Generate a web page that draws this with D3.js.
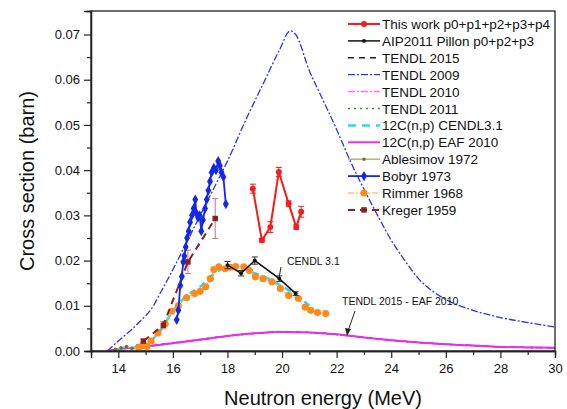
<!DOCTYPE html>
<meta charset="utf-8">
<script src="https://d3js.org/d3.v7.min.js"></script>
<style>
  body { margin: 0; background: #fff; }
  text { font-family: Arial, "Liberation Sans", sans-serif; fill: #111; }
</style>
<body>
<div id="chart"></div>
<script>

// values: [neutron energy (MeV), cross section (barn)]
var thisWork    = [[18.93,0.0359],[19.26,0.0245],[19.57,0.0274],[19.88,0.0396],[20.24,0.0326],[20.52,0.0274],[20.7,0.0308]];
var thisWorkErr = [0.0010,0.0004,0.0012,0.0010,0.0006,0.0005,0.0012];

var pillon    = [[18.0,0.0190],[18.5,0.0172],[19.0,0.0200],[19.9,0.0160],[20.5,0.0127]];
var pillonErr = [0.0008,0.0006,0.0008,0.0006,0.0004];

var tendl2009 = [[13.6,0],[14.0,0.0022],[14.5,0.0048],[14.9,0.0072],[15.2,0.0092],[15.6,0.0135],[16.0,0.0180],
  [16.5,0.0240],[17.0,0.0300],[17.5,0.0360],[18.0,0.0420],[18.7,0.0515],[19.3,0.0590],[19.9,0.0665],[20.3,0.0708],
  [20.5,0.0700],[21.0,0.0620],[21.5,0.0555],[22.0,0.0490],[22.5,0.0420],[23.0,0.0358],[23.5,0.0300],[24.0,0.0245],
  [24.5,0.0200],[25.0,0.0160],[25.5,0.0133],[26.0,0.0114],[27.0,0.0090],[28.0,0.0074],[29.0,0.0063],[30.0,0.0053]];

var eaf2010 = [[13.6,0],[14.0,0.0004],[15,0.0010],[16,0.0017],[17,0.0025],[18,0.0033],[19,0.0039],[20,0.0042],
  [21,0.0041],[22,0.0037],[23,0.0030],[24,0.0024],[25,0.0019],[26,0.0015],[27,0.0012],[28,0.0009],[29,0.0008],[30,0.0007]];
var tendl2015 = [[13.6,0],[14.0,0.0004],[15,0.0010],[16,0.0017],[17,0.0025],[18,0.0033],[19,0.0039],[20,0.0042],
  [21,0.0041],[22,0.0037],[23,0.0030],[24,0.0024],[25,0.0019],[26,0.0015],[27,0.0012],[28,0.0009],[29,0.0008],[30,0.0007]];
var tendl2010 = [[13.6,0],[14.0,0.0004],[15,0.0010],[16,0.0018],[17,0.0026],[18,0.0033],[19,0.0039],[20,0.0042],
  [21,0.0041],[22,0.0036],[23,0.0030],[24,0.0024],[25,0.0019],[26,0.0015],[27,0.0012],[28,0.0009],[29,0.0008],[30,0.0007]];
var tendl2011 = [[13.6,0],[14.0,0.0004],[15,0.0010],[16,0.0018],[17,0.0026],[18,0.0033],[19,0.0039],[20,0.0042],
  [21,0.0041],[22,0.0036],[23,0.0030],[24,0.0024],[25,0.0019],[26,0.0015],[27,0.0012],[28,0.0009],[29,0.0008],[30,0.0007]];

var cendl31 = [[14.0,0],[14.5,0.0005],[15.0,0.0014],[15.5,0.0042],[16.0,0.0088],[16.5,0.0122],[17.0,0.0142],
  [17.5,0.0170],[18.0,0.0184],[18.5,0.0182],[19.0,0.0172],[19.5,0.0160],[20.0,0.0143],[20.5,0.0124],[21.0,0.0100]];

var ablesimov = [[13.9,0.0004],[14.1,0.0007],[14.3,0.0010],[14.5,0.0006],[14.7,0.0012],[14.9,0.0008],[15.1,0.0011]];

var bobyr = [[16.14,0.0069],[16.2,0.0090],[16.27,0.0145],[16.33,0.0165],[16.38,0.0197],[16.42,0.0210],[16.47,0.0230],
  [16.52,0.0250],[16.58,0.0265],[16.63,0.0285],[16.7,0.0300],[16.76,0.0315],[16.82,0.0335],[16.86,0.0305],
  [16.92,0.0295],[16.98,0.0300],[17.04,0.0265],[17.1,0.0290],[17.18,0.0315],[17.24,0.0335],[17.3,0.0355],
  [17.36,0.0375],[17.42,0.0395],[17.5,0.0405],[17.58,0.0400],[17.66,0.0420],[17.72,0.0410],[17.78,0.0395],
  [17.85,0.0385],[17.94,0.0325]];

var rimmer = [[14.75,0.0008],[14.9,0.0012],[15.05,0.0010],[15.2,0.0022],[15.45,0.0040],[15.72,0.0060],[15.96,0.0088],
  [16.2,0.0100],[16.5,0.0118],[16.8,0.0127],[17.0,0.0132],[17.2,0.0142],[17.37,0.0160],[17.5,0.0180],[17.68,0.0186],
  [17.92,0.0182],[18.1,0.0185],[18.3,0.0187],[18.6,0.0186],[18.8,0.0178],[19.02,0.0164],[19.3,0.0160],[19.63,0.0153],
  [19.94,0.0138],[20.24,0.0123],[20.6,0.0116],[20.85,0.0097],[21.05,0.0090],[21.3,0.0085],[21.6,0.0083]];

var kreger    = [[14.92,0.0022],[15.65,0.0057],[16.55,0.0197],[17.55,0.0293]];
var kregerErr = [0.0004,0.0008,0.0026,0.0044];

var xTicks = [14,16,18,20,22,24,26,28,30];
var xMinor = [13,15,17,19,21,23,25,27,29];
var yTicks = [0,0.01,0.02,0.03,0.04,0.05,0.06,0.07];
var yMinor = [0.005,0.015,0.025,0.035,0.045,0.055,0.065];

var legendLabels = ["This work p0+p1+p2+p3+p4","AIP2011 Pillon p0+p2+p3","TENDL 2015","TENDL 2009","TENDL 2010",
  "TENDL 2011","12C(n,p) CENDL3.1","12C(n,p) EAF 2010","Ablesimov 1972","Bobyr 1973","Rimmer 1968","Kreger 1959"];

var W = 567, H = 409;

var svg = d3.select("#chart").append("svg")
  .attr("width", W).attr("height", H);

var x = d3.scaleLinear().domain([13, 30]).range([91, 555]);
var y = d3.scaleLinear().domain([0, 0.0752]).range([351, 11]);

// clip for the curves
svg.append("clipPath").attr("id", "clip")
  .append("rect").attr("x", 91).attr("y", 11).attr("width", 464).attr("height", 340);

var line = d3.line().x(function(d){ return x(d[0]); }).y(function(d){ return y(d[1]); });
var smooth = d3.line().curve(d3.curveMonotoneX).x(function(d){ return x(d[0]); }).y(function(d){ return y(d[1]); });

var plot = svg.append("g").attr("clip-path", "url(#clip)");

function drawLine(data, gen, color, w, dash) {
  plot.append("path").datum(data)
    .attr("d", gen)
    .attr("fill", "none")
    .attr("stroke", color)
    .attr("stroke-width", w)
    .attr("stroke-dasharray", dash || null);
}

function errBars(data, err, color) {
  var g = plot.append("g").attr("stroke", color).attr("stroke-width", 1);
  data.forEach(function(d, i) {
    var cx = x(d[0]), y0 = y(d[1] - err[i]), y1 = y(d[1] + err[i]);
    g.append("line").attr("x1", cx).attr("x2", cx).attr("y1", y0).attr("y2", y1);
    g.append("line").attr("x1", cx - 3).attr("x2", cx + 3).attr("y1", y0).attr("y2", y0);
    g.append("line").attr("x1", cx - 3).attr("x2", cx + 3).attr("y1", y1).attr("y2", y1);
  });
}

function markers(data, type, size, color) {
  plot.append("g").selectAll("path").data(data).enter().append("path")
    .attr("transform", function(d){ return "translate(" + x(d[0]) + "," + y(d[1]) + ")"; })
    .attr("d", d3.symbol().type(type).size(size))
    .attr("fill", color);
}

// evaluations
drawLine(tendl2009, smooth, "#2a35e8", 1.3, "7,2,2,2");
drawLine(tendl2011, smooth, "#2f9a2f", 1.3, "2,3");
drawLine(tendl2010, smooth, "#ff6bff", 1.5, "7,2,2,2");
drawLine(tendl2015, smooth, "#222", 1.3, "5,4");
drawLine(eaf2010, smooth, "#e82ee8", 2);
drawLine(cendl31, smooth, "#25e0e6", 2.5, "7,5");

// older measurements
drawLine(ablesimov, line, "#b3b38a", 1.5);
markers(ablesimov, d3.symbolCircle, 10, "#6f6f2e");

drawLine(rimmer, line, "#ffa040", 1, "6,2,2,2");
markers(rimmer, d3.symbolCircle, 40, "#ff8a1c");

errBars(kreger, kregerErr, "#b77a7a");
drawLine(kreger, line, "#8e1d1d", 2, "7,5");
markers(kreger, d3.symbolSquare, 30, "#8e1d1d");

drawLine(bobyr, line, "#1428e8", 1.8);
markers(bobyr, d3.symbolDiamond, 30, "#1428e8");

// Pillon 2011
errBars(pillon, pillonErr, "#333");
drawLine(pillon, line, "#111", 1.5);
markers(pillon, d3.symbolCircle, 12, "#111");

// this work
errBars(thisWork, thisWorkErr, "#f02020");
drawLine(thisWork, line, "#f41c1c", 2);
markers(thisWork, d3.symbolCircle, 28, "#f41c1c");

// frame
svg.append("rect").attr("x", 91).attr("y", 11).attr("width", 464).attr("height", 340)
  .attr("fill", "none").attr("stroke", "#222").attr("stroke-width", 1.3);

// axes
var xAxis = svg.append("g").attr("transform", "translate(0,351)")
  .call(d3.axisBottom(x).tickValues(xTicks).tickSize(7).tickPadding(6).tickFormat(d3.format("d")));
svg.append("g").attr("transform", "translate(0,351)")
  .call(d3.axisBottom(x).tickValues(xMinor).tickSize(4).tickFormat(""));
var yAxis = svg.append("g").attr("transform", "translate(91,0)")
  .call(d3.axisLeft(y).tickValues(yTicks).tickSize(7).tickPadding(4).tickFormat(d3.format(".2f")));
svg.append("g").attr("transform", "translate(91,0)")
  .call(d3.axisLeft(y).tickValues(yMinor).tickSize(4).tickFormat(""));

svg.selectAll(".domain").attr("stroke", "#222").attr("stroke-width", 1.3);
svg.selectAll(".tick line").attr("stroke", "#222").attr("stroke-width", 1.2);
svg.selectAll(".tick text").attr("font-size", "13px").attr("fill", "#222")
  .attr("font-family", "Arial, 'Liberation Sans', sans-serif");

// axis titles
svg.append("text").attr("x", 323).attr("y", 405).attr("text-anchor", "middle")
  .attr("font-size", "20px").text("Neutron energy (MeV)");
svg.append("text").attr("transform", "translate(34,181) rotate(-90)").attr("text-anchor", "middle")
  .attr("font-size", "20px").text("Cross section (barn)");

// annotations
svg.append("text").attr("x", 287).attr("y", 265).attr("font-size", "10.5px").text("CENDL 3.1");
svg.append("line").attr("x1", 281).attr("y1", 267).attr("x2", 279).attr("y2", 278)
  .attr("stroke", "#222").attr("stroke-width", 1);
svg.append("text").attr("x", 342).attr("y", 305).attr("font-size", "10.5px").text("TENDL 2015 - EAF 2010");
svg.append("line").attr("x1", 355).attr("y1", 311).attr("x2", 348).attr("y2", 331)
  .attr("stroke", "#222").attr("stroke-width", 1);
svg.append("path").attr("d", "M345,328 L347,336 L351,329 Z").attr("fill", "#222");

// legend
var legendStyles = [
  {c: "#f41c1c", w: 2, dash: null, m: d3.symbolCircle, ms: 28},
  {c: "#111", w: 1.5, dash: null, m: d3.symbolCircle, ms: 12},
  {c: "#222", w: 1.5, dash: "6,5"},
  {c: "#2a35e8", w: 1.3, dash: "7,2,2,2"},
  {c: "#ff6bff", w: 1.5, dash: "7,2,2,2"},
  {c: "#2f9a2f", w: 1.5, dash: "2,4"},
  {c: "#25e0e6", w: 2.5, dash: "8,6"},
  {c: "#e82ee8", w: 2, dash: null},
  {c: "#b3b38a", w: 1.5, dash: null, m: d3.symbolCircle, ms: 10, mc: "#6f6f2e"},
  {c: "#1428e8", w: 1.8, dash: null, m: d3.symbolDiamond, ms: 30},
  {c: "#ffa040", w: 1, dash: "6,2,2,2", m: d3.symbolCircle, ms: 40, mc: "#ff8a1c"},
  {c: "#8e1d1d", w: 2, dash: "7,5", m: d3.symbolSquare, ms: 30}
];

var legend = svg.append("g");
legendLabels.forEach(function(label, i) {
  var ly = 24 + i * 16.9, st = legendStyles[i];
  legend.append("line").attr("x1", 348).attr("x2", 380).attr("y1", ly).attr("y2", ly)
    .attr("stroke", st.c).attr("stroke-width", st.w).attr("stroke-dasharray", st.dash);
  if (st.m) {
    legend.append("path").attr("transform", "translate(364," + ly + ")")
      .attr("d", d3.symbol().type(st.m).size(st.ms)).attr("fill", st.mc || st.c);
  }
  legend.append("text").attr("x", 382).attr("y", ly + 5).attr("font-size", "13.5px").text(label);
});

</script>
</body>
